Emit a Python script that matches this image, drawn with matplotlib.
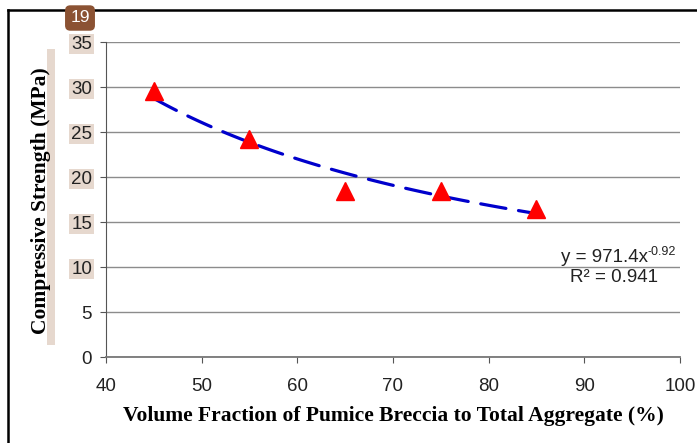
import numpy as np
import matplotlib
matplotlib.use('agg')
import matplotlib.pyplot as plt
from matplotlib.lines import Line2D
from matplotlib.patches import Rectangle

## data
pumice_frac = [45, 55, 65, 75, 85]
strength = [29.6, 24.2, 18.4, 18.4, 16.5]
x_ticks = [40, 50, 60, 70, 80, 90, 100]
y_ticks = [0, 5, 10, 15, 20, 25, 30, 35]
highlighted_y = [10, 15, 20, 25, 30, 35]

## power trend line fitted in log-log space (like Excel)
b, log_a = np.polyfit(np.log(pumice_frac), np.log(strength), 1)
xfit = np.linspace(pumice_frac[0], pumice_frac[-1], 100)
yfit = np.exp(log_a) * xfit ** b

W, H = 697, 443
fig = plt.figure(figsize=(6.97, 4.43), dpi=100)
ax = fig.add_axes([0.152, 0.194, 0.8236, 0.711])

ax.plot(xfit, yfit, color='#0000cc', lw=2.3, dashes=(8, 4), dash_capstyle='round', zorder=3)
ax.plot(pumice_frac, strength, linestyle='none', marker='^', color='#ff0000', markersize=12.5, zorder=4)

ax.set_xlim(40, 100)
ax.set_ylim(0, 35)
ax.set_xticks(x_ticks)
ax.set_yticks(y_ticks)
ax.yaxis.grid(True, color='#8c8c8c', lw=1)
ax.set_axisbelow(True)
for s in ['top', 'right']:
    ax.spines[s].set_visible(False)
ax.spines['left'].set_color('#555555')
ax.spines['bottom'].set_color('#777777')
ax.spines['bottom'].set_linewidth(1.3)
ax.tick_params(direction='out', length=4, color='#555555', labelsize=13.5, labelcolor='#222222')
for lab in ax.get_xticklabels() + ax.get_yticklabels():
    lab.set_family('Liberation Sans')
ax.tick_params(axis='x', pad=11)
ax.tick_params(axis='y', pad=6)
for lab, v in zip(ax.get_yticklabels(), y_ticks):
    if v in highlighted_y:
        lab.set_bbox(dict(facecolor='#e6d8ce', edgecolor='none', pad=1.2))

ax.set_xlabel('Volume Fraction of Pumice Breccia to Total Aggregate (%)',
              family='Liberation Serif', fontweight='bold', fontsize=15.5, labelpad=8)
fig.add_artist(Rectangle((47 / W, 1 - 345 / H), 8 / W, 296 / H, transform=fig.transFigure,
                         facecolor='#e6d8ce', edgecolor='none', zorder=0))
fig.text(41 / W, 1 - 201 / H, 'Compressive Strength (MPa)', family='Liberation Serif',
         fontweight='bold', fontsize=15.5, rotation=90, ha='center', va='center', zorder=2)

## trend line equation
fig.text(648 / W, 1 - 258 / H, 'y = 971.4x', ha='right', va='center', fontsize=13.5,
         family='Liberation Sans', color='#222222')
fig.add_artist(Rectangle((647 / W, 1 - 261 / H), 6 / W, 16 / H, transform=fig.transFigure,
                         facecolor='#e6d8ce', edgecolor='none', zorder=0))
fig.text(648 / W, 1 - 252 / H, '-0.92', ha='left', va='center', fontsize=9,
         family='Liberation Sans', color='#222222')
fig.text(658 / W, 1 - 277 / H, 'R² = 0.941', ha='right', va='center', fontsize=13.5,
         family='Liberation Sans', color='#222222')

## page border and page badge
fig.add_artist(Line2D([8 / W, 8 / W], [0, 1 - 10 / H], transform=fig.transFigure, color='black', lw=1.8))
fig.add_artist(Line2D([8 / W, 1], [1 - 10 / H, 1 - 10 / H], transform=fig.transFigure, color='black', lw=1.8))
fig.text(80 / W, 1 - 18 / H, '19', color='white', fontsize=12.5, ha='center', va='center',
         family='Liberation Sans',
         bbox=dict(boxstyle='round,pad=0.3,rounding_size=0.3', facecolor='#8b5233', edgecolor='none'))

plt.savefig('out.png', dpi=100)
